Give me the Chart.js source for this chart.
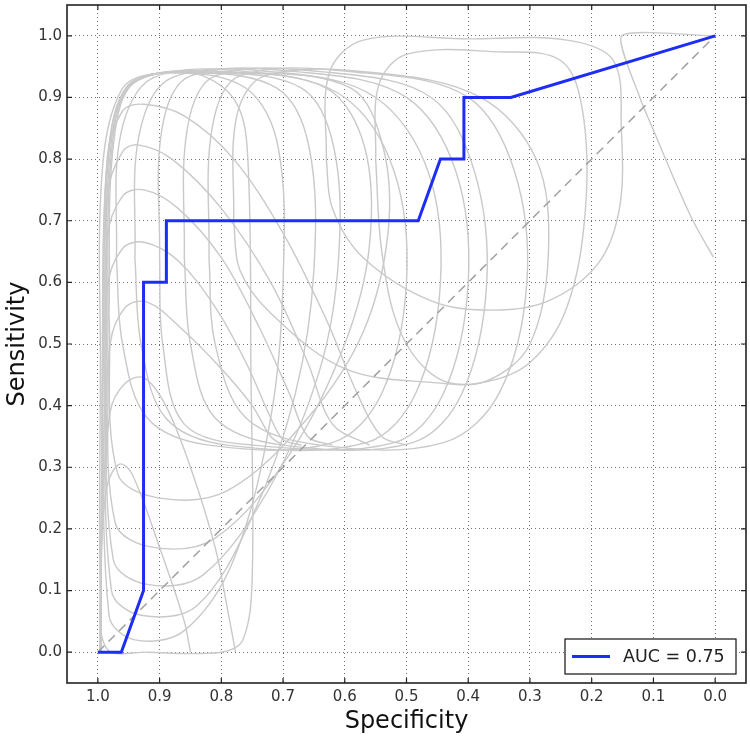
<!DOCTYPE html>
<html>
<head>
<meta charset="utf-8">
<title>ROC curve</title>
<script src="https://cdn.jsdelivr.net/npm/chart.js@4.4.0/dist/chart.umd.min.js"></script>
<style>
	html, body { margin: 0; padding: 0; background: #fff; }
	#wrap { width: 750px; height: 740px; }
</style>
</head>
<body>
<div id="wrap"><canvas id="rocChart" width="750" height="740"></canvas></div>
<script>
// ROC curve (blue step line)
const specificity = [1.0, 0.962, 0.926, 0.926, 0.889, 0.889, 0.481, 0.445, 0.407, 0.407, 0.331, 0.0]
const sensitivity = [0.0, 0.0, 0.1, 0.6, 0.6, 0.7, 0.7, 0.8, 0.8, 0.9, 0.9, 1.0]
const aucLabel = 'AUC = 0.75'

// chance line
const chanceLine = [[1.0, 0.0], [0.0, 1.0]]

// tick labels on both axes
const tickValues = [0.0, 0.1, 0.2, 0.3, 0.4, 0.5, 0.6, 0.7, 0.8, 0.9, 1.0]

// light grey bootstrap curves, [specificity, sensitivity] pairs
const greyCurves = [
	// big box on the left
	[[0.996, 0.45], [0.993, 0.78], [0.96, 0.915], [0.9, 0.94], [0.83, 0.935], [0.775, 0.89], [0.757, 0.8], [0.752, 0.45], [0.75, 0.12], [0.765, 0.02], [0.8, 0.0], [0.92, 0.0], [0.985, 0.005], [0.996, 0.1], [0.996, 0.45]],
	// loops with a low bottom
	[[0.99, 0.5], [0.986, 0.78], [0.955, 0.915], [0.88, 0.94], [0.76, 0.915], [0.708, 0.82], [0.7, 0.6], [0.72, 0.38], [0.78, 0.15], [0.86, 0.035], [0.94, 0.02], [0.982, 0.06], [0.99, 0.5]],
	[[0.988, 0.5], [0.983, 0.8], [0.95, 0.92], [0.85, 0.94], [0.71, 0.915], [0.658, 0.82], [0.65, 0.62], [0.68, 0.42], [0.75, 0.22], [0.84, 0.075], [0.93, 0.06], [0.978, 0.1], [0.988, 0.5]],
	[[0.986, 0.5], [0.98, 0.81], [0.945, 0.922], [0.82, 0.94], [0.67, 0.915], [0.618, 0.82], [0.61, 0.64], [0.64, 0.46], [0.72, 0.27], [0.83, 0.125], [0.92, 0.11], [0.975, 0.15], [0.986, 0.5]],
	[[0.984, 0.5], [0.977, 0.82], [0.94, 0.925], [0.79, 0.94], [0.63, 0.915], [0.568, 0.82], [0.56, 0.66], [0.6, 0.5], [0.69, 0.32], [0.81, 0.185], [0.91, 0.17], [0.972, 0.21], [0.984, 0.5]],
	[[0.982, 0.55], [0.974, 0.83], [0.935, 0.928], [0.76, 0.94], [0.59, 0.915], [0.538, 0.82], [0.53, 0.68], [0.57, 0.52], [0.66, 0.38], [0.79, 0.262], [0.9, 0.25], [0.968, 0.29], [0.982, 0.55]],
	// arcs falling from the left edge
	[[0.995, 0.0], [0.993, 0.45], [0.985, 0.8], [0.96, 0.878], [0.925, 0.889], [0.86, 0.87], [0.78, 0.8], [0.7, 0.68], [0.63, 0.54], [0.58, 0.42], [0.54, 0.35], [0.5, 0.336]],
	[[0.995, 0.0], [0.993, 0.4], [0.985, 0.74], [0.96, 0.812], [0.935, 0.823], [0.88, 0.8], [0.8, 0.72], [0.72, 0.6], [0.66, 0.47], [0.62, 0.37], [0.56, 0.336]],
	[[0.995, 0.0], [0.993, 0.35], [0.985, 0.67], [0.96, 0.74], [0.925, 0.75], [0.87, 0.72], [0.8, 0.64], [0.74, 0.53], [0.69, 0.42], [0.66, 0.35], [0.62, 0.336]],
	[[0.995, 0.0], [0.993, 0.3], [0.985, 0.59], [0.96, 0.655], [0.925, 0.665], [0.87, 0.635], [0.81, 0.56], [0.76, 0.47], [0.72, 0.38], [0.7, 0.345], [0.67, 0.336]],
	[[0.995, 0.0], [0.993, 0.25], [0.98, 0.5], [0.955, 0.56], [0.92, 0.568], [0.87, 0.53], [0.8, 0.46], [0.75, 0.4], [0.72, 0.35], [0.7, 0.336]],
	[[0.995, 0.0], [0.993, 0.2], [0.98, 0.39], [0.955, 0.437], [0.925, 0.445], [0.89, 0.4], [0.85, 0.3], [0.81, 0.17], [0.79, 0.07], [0.777, 0.0]],
	[[0.997, 0.0], [0.995, 0.15], [0.985, 0.27], [0.965, 0.305], [0.945, 0.29], [0.9, 0.17], [0.86, 0.05], [0.85, 0.0]],
	// middle loops, bottom near 0.34
	[[0.97, 0.64], [0.963, 0.84], [0.91, 0.932], [0.74, 0.94], [0.6, 0.9], [0.52, 0.78], [0.5, 0.6], [0.54, 0.42], [0.62, 0.34], [0.82, 0.336], [0.92, 0.38], [0.96, 0.5], [0.97, 0.64]],
	[[0.94, 0.64], [0.933, 0.84], [0.88, 0.932], [0.7, 0.94], [0.55, 0.9], [0.465, 0.78], [0.445, 0.6], [0.485, 0.42], [0.565, 0.34], [0.79, 0.336], [0.89, 0.38], [0.93, 0.5], [0.94, 0.64]],
	[[0.9, 0.64], [0.896, 0.85], [0.85, 0.935], [0.66, 0.94], [0.5, 0.9], [0.42, 0.78], [0.4, 0.6], [0.44, 0.42], [0.52, 0.34], [0.75, 0.336], [0.86, 0.37], [0.895, 0.5], [0.9, 0.64]],
	[[0.86, 0.64], [0.855, 0.85], [0.81, 0.935], [0.62, 0.94], [0.46, 0.9], [0.39, 0.78], [0.37, 0.6], [0.41, 0.42], [0.49, 0.34], [0.7, 0.336], [0.81, 0.38], [0.85, 0.5], [0.86, 0.64]],
	[[0.82, 0.64], [0.815, 0.85], [0.77, 0.935], [0.57, 0.94], [0.4, 0.9], [0.325, 0.78], [0.305, 0.6], [0.35, 0.42], [0.44, 0.34], [0.64, 0.336], [0.76, 0.38], [0.81, 0.5], [0.82, 0.64]],
	[[0.78, 0.7], [0.775, 0.87], [0.73, 0.935], [0.55, 0.94], [0.38, 0.9], [0.29, 0.8], [0.27, 0.65], [0.3, 0.5], [0.37, 0.44], [0.45, 0.437], [0.6, 0.46], [0.72, 0.55], [0.77, 0.62], [0.78, 0.7]],
	// loops in the upper right
	[[0.63, 0.8], [0.625, 0.94], [0.57, 0.993], [0.4, 0.995], [0.24, 0.993], [0.165, 0.96], [0.152, 0.85], [0.155, 0.72], [0.19, 0.63], [0.27, 0.57], [0.36, 0.555], [0.46, 0.57], [0.57, 0.64], [0.62, 0.72], [0.63, 0.8]],
	[[0.55, 0.8], [0.545, 0.92], [0.5, 0.97], [0.35, 0.974], [0.25, 0.96], [0.215, 0.88], [0.21, 0.72], [0.24, 0.56], [0.3, 0.47], [0.38, 0.437], [0.45, 0.445], [0.51, 0.52], [0.54, 0.65], [0.55, 0.8]],
	// odd one at the top right corner
	[[0.0, 1.0], [0.151, 1.0], [0.122, 0.9], [0.1, 0.847], [0.068, 0.771], [0.036, 0.7], [0.003, 0.641]],
]

const toPoints = pairs => pairs.map(([x, y]) => ({ x: x, y: y }))

const datasets = [
	{
		label: aucLabel,
		data: specificity.map((s, i) => ({ x: s, y: sensitivity[i] })),
		borderColor: 'rgb(30, 45, 245)',
		borderWidth: 3,
		tension: 0,
	},
	{
		label: 'chance',
		data: toPoints(chanceLine),
		borderColor: '#a0a0a0',
		borderWidth: 1.5,
		borderDash: [9, 6],
		tension: 0,
	},
]

greyCurves.forEach((c, i) => {
	datasets.push({
		label: 'boot' + i,
		data: toPoints(c),
		borderColor: '#c9c9c9',
		borderWidth: 1.4,
		tension: i === greyCurves.length - 1 ? 0.2 : 0.35,
	})
})

// frame, inward ticks and the legend box (matplotlib look)
const frameAndLegend = {
	id: 'frameAndLegend',
	afterDraw(chart) {
		const ctx = chart.ctx
		const a = chart.chartArea
		const xs = chart.scales.x
		const ys = chart.scales.y
		ctx.save()
		ctx.strokeStyle = '#222'
		ctx.lineWidth = 1.2
		tickValues.forEach(v => {
			const px = xs.getPixelForValue(v)
			const py = ys.getPixelForValue(v)
			ctx.beginPath()
			ctx.moveTo(px, a.bottom); ctx.lineTo(px, a.bottom - 5)
			ctx.moveTo(px, a.top); ctx.lineTo(px, a.top + 5)
			ctx.moveTo(a.left, py); ctx.lineTo(a.left + 5, py)
			ctx.moveTo(a.right, py); ctx.lineTo(a.right - 5, py)
			ctx.stroke()
		})
		ctx.lineWidth = 1.6
		ctx.strokeRect(a.left, a.top, a.right - a.left, a.bottom - a.top)

		// legend
		const w = 171, h = 35
		const x = a.right - 10 - w
		const y = a.bottom - 9 - h
		ctx.fillStyle = '#fff'
		ctx.fillRect(x, y, w, h)
		ctx.lineWidth = 1.2
		ctx.strokeStyle = '#111'
		ctx.strokeRect(x, y, w, h)
		ctx.strokeStyle = datasets[0].borderColor
		ctx.lineWidth = 3
		ctx.beginPath()
		ctx.moveTo(x + 7, y + h / 2)
		ctx.lineTo(x + 45, y + h / 2)
		ctx.stroke()
		ctx.fillStyle = '#222'
		ctx.font = '17.5px "DejaVu Sans"'
		ctx.textBaseline = 'middle'
		ctx.fillText(datasets[0].label, x + 58, y + h / 2 + 1)
		ctx.restore()
	},
}

const axisCommon = {
	type: 'linear',
	min: -0.05,
	max: 1.05,
	afterBuildTicks: s => {
		s.ticks = tickValues.map(v => ({ value: v }))
	},
	grid: {
		color: 'rgba(0, 0, 0, 0.7)',
		lineWidth: 0.8,
		drawTicks: false,
	},
	border: {
		display: false,
		dash: [1, 3],
	},
}

const rocChart = new Chart(document.getElementById('rocChart').getContext('2d'), {
	type: 'scatter',
	data: { datasets: datasets },
	options: {
		responsive: false,
		animation: false,
		devicePixelRatio: 1,
		showLine: true,
		elements: { point: { radius: 0 } },
		layout: { padding: { top: 5, right: 4, left: 0, bottom: 0 } },
		plugins: {
			legend: { display: false },
			tooltip: { enabled: false },
		},
		scales: {
			x: {
				...axisCommon,
				reverse: true,
				afterFit: s => {
					s.height = 57
					s.paddingLeft = 0
					s.paddingRight = 0
				},
				ticks: {
					callback: v => v.toFixed(1),
					font: { family: 'DejaVu Sans', size: 15 },
					color: '#333',
					padding: 5,
					maxRotation: 0,
				},
				title: {
					display: true,
					text: 'Specificity',
					font: { family: 'DejaVu Sans', size: 24 },
					color: '#111',
					padding: { top: 0, bottom: 4 },
				},
			},
			y: {
				...axisCommon,
				afterFit: s => {
					s.width = 67
					s.paddingTop = 0
					s.paddingBottom = 0
				},
				ticks: {
					callback: v => v.toFixed(1),
					font: { family: 'DejaVu Sans', size: 15 },
					color: '#333',
					padding: 5,
				},
				title: {
					display: true,
					text: 'Sensitivity',
					font: { family: 'DejaVu Sans', size: 24 },
					color: '#111',
					padding: { top: 3, bottom: 0 },
				},
			},
		},
	},
	plugins: [frameAndLegend],
})
</script>
</body>
</html>
